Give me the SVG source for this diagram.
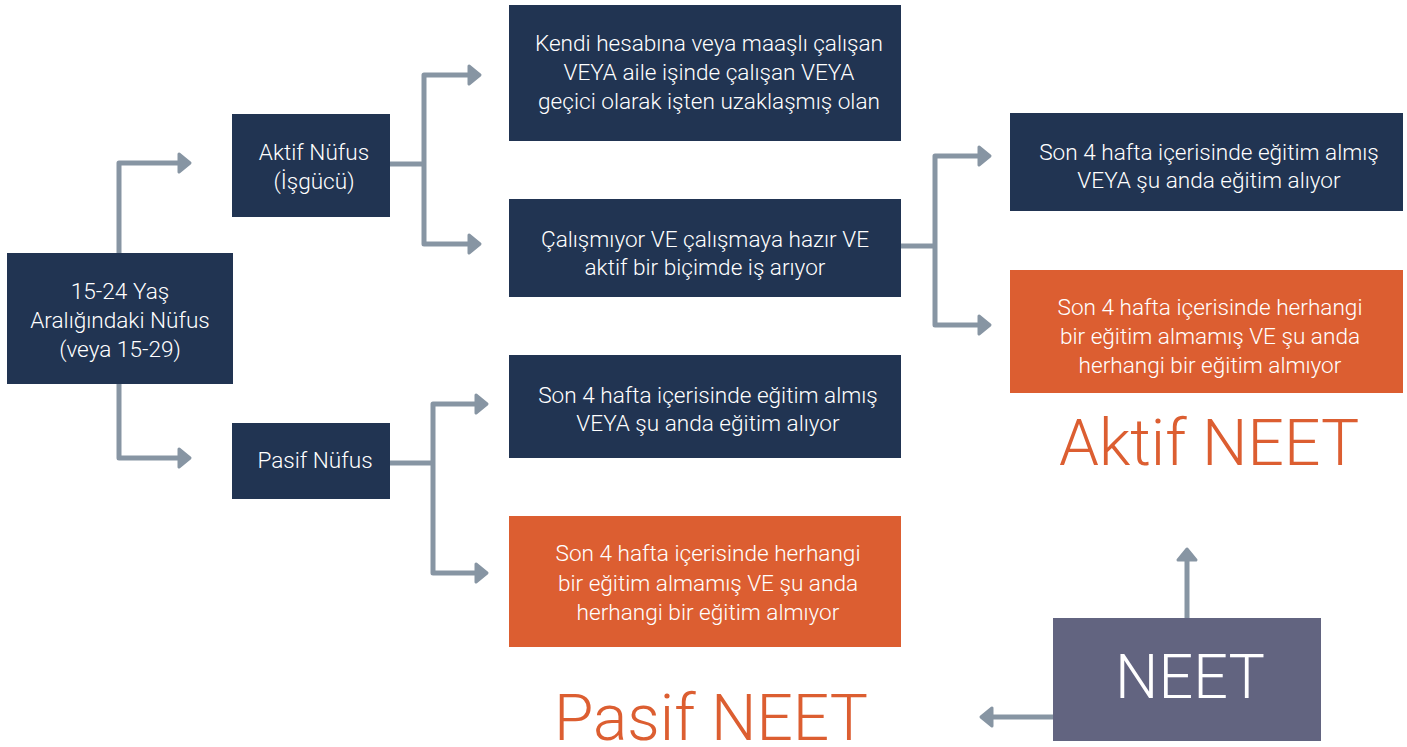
<svg xmlns="http://www.w3.org/2000/svg" width="1407" height="747" viewBox="0 0 1407 747">
<defs>
<style>
.navy{fill:#213452}
.orange{fill:#DC5E31}
.neet{fill:#626480}
.t{font-family:"Roboto Light",Roboto,"Liberation Sans",sans-serif;font-weight:300;font-size:22.6px;fill:#ffffff;text-anchor:middle}
.big{font-family:"Roboto Light",Roboto,"Liberation Sans",sans-serif;font-weight:300;font-size:64px;fill:#DC5E31;text-anchor:middle}
.c{fill:none;stroke:#8795A3;stroke-width:5;stroke-linejoin:round}
</style>
<marker id="ah" viewBox="-3 -12 17 24" refX="0" refY="0" markerWidth="17" markerHeight="24" markerUnits="userSpaceOnUse" orient="auto-start-reverse">
<path d="M0,-9 L11,0 L0,9 Z" fill="#8795A3" stroke="#8795A3" stroke-width="3" stroke-linejoin="round"/>
</marker>
</defs>
<rect width="1407" height="747" fill="#ffffff"/>
<g id="connectors">
<path class="c" d="M119,253 V163 H179" marker-end="url(#ah)"/>
<path class="c" d="M119,383 V458 H179" marker-end="url(#ah)"/>
<path class="c" d="M390,164 H424"/>
<path class="c" d="M469,75 H424 V244 H469" marker-start="url(#ah)" marker-end="url(#ah)"/>
<path class="c" d="M390,463 H433"/>
<path class="c" d="M476,404 H433 V573 H476" marker-start="url(#ah)" marker-end="url(#ah)"/>
<path class="c" d="M901,246 H935"/>
<path class="c" d="M979,156 H935 V325 H979" marker-start="url(#ah)" marker-end="url(#ah)"/>
<path class="c" d="M1187,618 V560" marker-end="url(#ah)"/>
<path class="c" d="M1053,717 H992" marker-end="url(#ah)"/>
</g>
<g id="root">
<rect class="navy" x="7" y="253" width="226" height="131"/>
<text class="t" x="120" y="299">15-24 Yaş</text>
<text class="t" x="120" y="328">Aralığındaki Nüfus</text>
<text class="t" x="120" y="357">(veya 15-29)</text>
</g>
<g id="aktif-nufus">
<rect class="navy" x="232" y="114" width="158" height="103"/>
<text class="t" x="314" y="160">Aktif Nüfus</text>
<text class="t" x="314" y="189">(İşgücü)</text>
</g>
<g id="pasif-nufus">
<rect class="navy" x="232" y="423" width="158" height="76"/>
<text class="t" x="315" y="468">Pasif Nüfus</text>
</g>
<g id="calisan">
<rect class="navy" x="509" y="5" width="392" height="136"/>
<text class="t" x="709" y="51">Kendi hesabına veya maaşlı çalışan</text>
<text class="t" x="709" y="80">VEYA aile işinde çalışan VEYA</text>
<text class="t" x="709" y="109">geçici olarak işten uzaklaşmış olan</text>
</g>
<g id="issiz">
<rect class="navy" x="509" y="199" width="392" height="98"/>
<text class="t" x="705" y="247">Çalışmıyor VE çalışmaya hazır VE</text>
<text class="t" x="705" y="275">aktif bir biçimde iş arıyor</text>
</g>
<g id="pasif-egitim">
<rect class="navy" x="509" y="355" width="392" height="103"/>
<text class="t" x="708" y="403">Son 4 hafta içerisinde eğitim almış</text>
<text class="t" x="708" y="431">VEYA şu anda eğitim alıyor</text>
</g>
<g id="pasif-egitimsiz">
<rect class="orange" x="509" y="516" width="392" height="131"/>
<text class="t" x="708" y="561">Son 4 hafta içerisinde herhangi</text>
<text class="t" x="708" y="591">bir eğitim almamış VE şu anda</text>
<text class="t" x="708" y="620">herhangi bir eğitim almıyor</text>
</g>
<g id="aktif-egitim">
<rect class="navy" x="1010" y="113" width="393" height="98"/>
<text class="t" x="1209" y="160">Son 4 hafta içerisinde eğitim almış</text>
<text class="t" x="1209" y="188">VEYA şu anda eğitim alıyor</text>
</g>
<g id="aktif-egitimsiz">
<rect class="orange" x="1010" y="270" width="393" height="123"/>
<text class="t" x="1210" y="315">Son 4 hafta içerisinde herhangi</text>
<text class="t" x="1210" y="344">bir eğitim almamış VE şu anda</text>
<text class="t" x="1210" y="373">herhangi bir eğitim almıyor</text>
</g>
<g id="aktif-neet-label">
<text class="big" x="1209" y="465">Aktif NEET</text>
</g>
<g id="pasif-neet-label">
<text class="big" x="711" y="740">Pasif NEET</text>
</g>
<g id="neet">
<rect class="neet" x="1053" y="618" width="268" height="123"/>
<text class="t" x="1190" y="698" style="font-size:61px">NEET</text>
</g>
</svg>
